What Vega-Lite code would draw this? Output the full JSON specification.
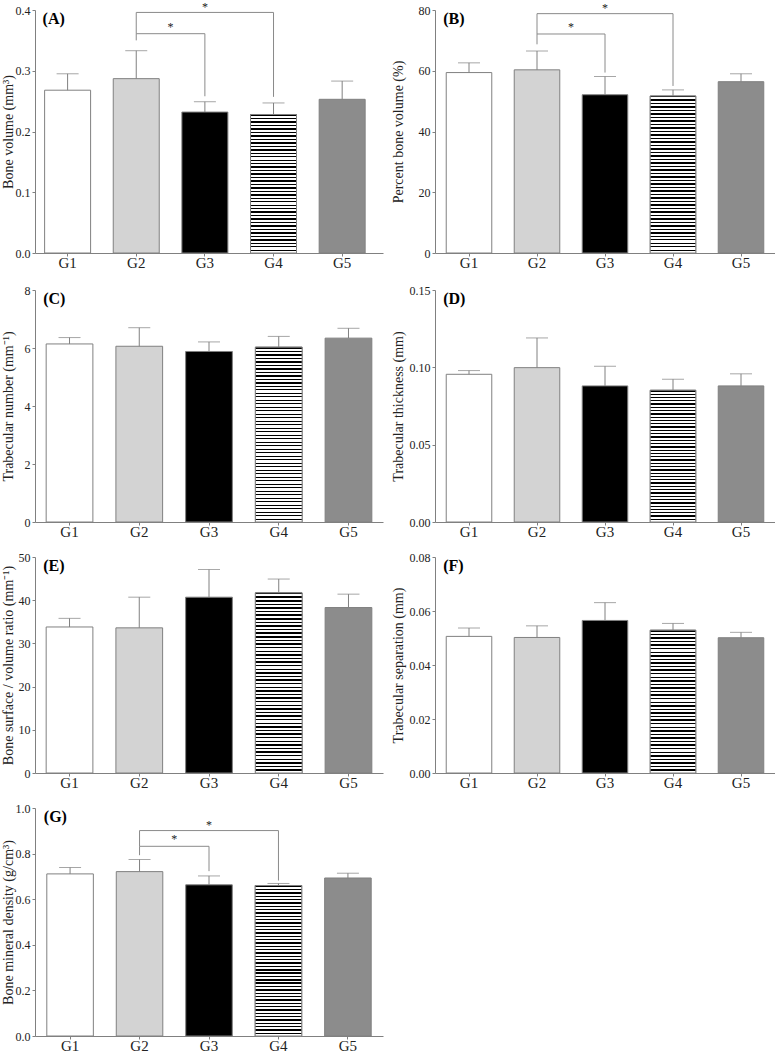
{
"$schema": "https://vega.github.io/schema/vega-lite/v6.json",
"background": "white",
"padding": {"left": 0, "top": 0, "right": 0, "bottom": 0},
"params": [
{"name": "stripes40", "value": {"gradient": "linear", "x1": 0, "y1": 0, "x2": 0, "y2": 1, "stops": [{"offset":0,"color":"#000"},{"offset":0.01,"color":"#000"},{"offset":0.01,"color":"#fff"},{"offset":0.025,"color":"#fff"},
{"offset":0.025,"color":"#000"},{"offset":0.035,"color":"#000"},{"offset":0.035,"color":"#fff"},{"offset":0.05,"color":"#fff"},
{"offset":0.05,"color":"#000"},{"offset":0.06,"color":"#000"},{"offset":0.06,"color":"#fff"},{"offset":0.075,"color":"#fff"},
{"offset":0.075,"color":"#000"},{"offset":0.085,"color":"#000"},{"offset":0.085,"color":"#fff"},{"offset":0.1,"color":"#fff"},
{"offset":0.1,"color":"#000"},{"offset":0.11,"color":"#000"},{"offset":0.11,"color":"#fff"},{"offset":0.125,"color":"#fff"},
{"offset":0.125,"color":"#000"},{"offset":0.135,"color":"#000"},{"offset":0.135,"color":"#fff"},{"offset":0.15,"color":"#fff"},
{"offset":0.15,"color":"#000"},{"offset":0.16,"color":"#000"},{"offset":0.16,"color":"#fff"},{"offset":0.175,"color":"#fff"},
{"offset":0.175,"color":"#000"},{"offset":0.185,"color":"#000"},{"offset":0.185,"color":"#fff"},{"offset":0.2,"color":"#fff"},
{"offset":0.2,"color":"#000"},{"offset":0.21,"color":"#000"},{"offset":0.21,"color":"#fff"},{"offset":0.225,"color":"#fff"},
{"offset":0.225,"color":"#000"},{"offset":0.235,"color":"#000"},{"offset":0.235,"color":"#fff"},{"offset":0.25,"color":"#fff"},
{"offset":0.25,"color":"#000"},{"offset":0.26,"color":"#000"},{"offset":0.26,"color":"#fff"},{"offset":0.275,"color":"#fff"},
{"offset":0.275,"color":"#000"},{"offset":0.285,"color":"#000"},{"offset":0.285,"color":"#fff"},{"offset":0.3,"color":"#fff"},
{"offset":0.3,"color":"#000"},{"offset":0.31,"color":"#000"},{"offset":0.31,"color":"#fff"},{"offset":0.325,"color":"#fff"},
{"offset":0.325,"color":"#000"},{"offset":0.335,"color":"#000"},{"offset":0.335,"color":"#fff"},{"offset":0.35,"color":"#fff"},
{"offset":0.35,"color":"#000"},{"offset":0.36,"color":"#000"},{"offset":0.36,"color":"#fff"},{"offset":0.375,"color":"#fff"},
{"offset":0.375,"color":"#000"},{"offset":0.385,"color":"#000"},{"offset":0.385,"color":"#fff"},{"offset":0.4,"color":"#fff"},
{"offset":0.4,"color":"#000"},{"offset":0.41,"color":"#000"},{"offset":0.41,"color":"#fff"},{"offset":0.425,"color":"#fff"},
{"offset":0.425,"color":"#000"},{"offset":0.435,"color":"#000"},{"offset":0.435,"color":"#fff"},{"offset":0.45,"color":"#fff"},
{"offset":0.45,"color":"#000"},{"offset":0.46,"color":"#000"},{"offset":0.46,"color":"#fff"},{"offset":0.475,"color":"#fff"},
{"offset":0.475,"color":"#000"},{"offset":0.485,"color":"#000"},{"offset":0.485,"color":"#fff"},{"offset":0.5,"color":"#fff"},
{"offset":0.5,"color":"#000"},{"offset":0.51,"color":"#000"},{"offset":0.51,"color":"#fff"},{"offset":0.525,"color":"#fff"},
{"offset":0.525,"color":"#000"},{"offset":0.535,"color":"#000"},{"offset":0.535,"color":"#fff"},{"offset":0.55,"color":"#fff"},
{"offset":0.55,"color":"#000"},{"offset":0.56,"color":"#000"},{"offset":0.56,"color":"#fff"},{"offset":0.575,"color":"#fff"},
{"offset":0.575,"color":"#000"},{"offset":0.585,"color":"#000"},{"offset":0.585,"color":"#fff"},{"offset":0.6,"color":"#fff"},
{"offset":0.6,"color":"#000"},{"offset":0.61,"color":"#000"},{"offset":0.61,"color":"#fff"},{"offset":0.625,"color":"#fff"},
{"offset":0.625,"color":"#000"},{"offset":0.635,"color":"#000"},{"offset":0.635,"color":"#fff"},{"offset":0.65,"color":"#fff"},
{"offset":0.65,"color":"#000"},{"offset":0.66,"color":"#000"},{"offset":0.66,"color":"#fff"},{"offset":0.675,"color":"#fff"},
{"offset":0.675,"color":"#000"},{"offset":0.685,"color":"#000"},{"offset":0.685,"color":"#fff"},{"offset":0.7,"color":"#fff"},
{"offset":0.7,"color":"#000"},{"offset":0.71,"color":"#000"},{"offset":0.71,"color":"#fff"},{"offset":0.725,"color":"#fff"},
{"offset":0.725,"color":"#000"},{"offset":0.735,"color":"#000"},{"offset":0.735,"color":"#fff"},{"offset":0.75,"color":"#fff"},
{"offset":0.75,"color":"#000"},{"offset":0.76,"color":"#000"},{"offset":0.76,"color":"#fff"},{"offset":0.775,"color":"#fff"},
{"offset":0.775,"color":"#000"},{"offset":0.785,"color":"#000"},{"offset":0.785,"color":"#fff"},{"offset":0.8,"color":"#fff"},
{"offset":0.8,"color":"#000"},{"offset":0.81,"color":"#000"},{"offset":0.81,"color":"#fff"},{"offset":0.825,"color":"#fff"},
{"offset":0.825,"color":"#000"},{"offset":0.835,"color":"#000"},{"offset":0.835,"color":"#fff"},{"offset":0.85,"color":"#fff"},
{"offset":0.85,"color":"#000"},{"offset":0.86,"color":"#000"},{"offset":0.86,"color":"#fff"},{"offset":0.875,"color":"#fff"},
{"offset":0.875,"color":"#000"},{"offset":0.885,"color":"#000"},{"offset":0.885,"color":"#fff"},{"offset":0.9,"color":"#fff"},
{"offset":0.9,"color":"#000"},{"offset":0.91,"color":"#000"},{"offset":0.91,"color":"#fff"},{"offset":0.925,"color":"#fff"},
{"offset":0.925,"color":"#000"},{"offset":0.935,"color":"#000"},{"offset":0.935,"color":"#fff"},{"offset":0.95,"color":"#fff"},
{"offset":0.95,"color":"#000"},{"offset":0.96,"color":"#000"},{"offset":0.96,"color":"#fff"},{"offset":0.975,"color":"#fff"},
{"offset":0.975,"color":"#000"},{"offset":0.985,"color":"#000"},{"offset":0.985,"color":"#fff"},{"offset":1,"color":"#fff"}]}},
{"name": "stripes45", "value": {"gradient": "linear", "x1": 0, "y1": 0, "x2": 0, "y2": 1, "stops": [{"offset":0,"color":"#000"},{"offset":0.0093,"color":"#000"},{"offset":0.0093,"color":"#fff"},{"offset":0.0222,"color":"#fff"},
{"offset":0.0222,"color":"#000"},{"offset":0.0315,"color":"#000"},{"offset":0.0315,"color":"#fff"},{"offset":0.0444,"color":"#fff"},
{"offset":0.0444,"color":"#000"},{"offset":0.0537,"color":"#000"},{"offset":0.0537,"color":"#fff"},{"offset":0.0667,"color":"#fff"},
{"offset":0.0667,"color":"#000"},{"offset":0.076,"color":"#000"},{"offset":0.076,"color":"#fff"},{"offset":0.0889,"color":"#fff"},
{"offset":0.0889,"color":"#000"},{"offset":0.0982,"color":"#000"},{"offset":0.0982,"color":"#fff"},{"offset":0.1111,"color":"#fff"},
{"offset":0.1111,"color":"#000"},{"offset":0.1204,"color":"#000"},{"offset":0.1204,"color":"#fff"},{"offset":0.1333,"color":"#fff"},
{"offset":0.1333,"color":"#000"},{"offset":0.1426,"color":"#000"},{"offset":0.1426,"color":"#fff"},{"offset":0.1556,"color":"#fff"},
{"offset":0.1556,"color":"#000"},{"offset":0.1649,"color":"#000"},{"offset":0.1649,"color":"#fff"},{"offset":0.1778,"color":"#fff"},
{"offset":0.1778,"color":"#000"},{"offset":0.1871,"color":"#000"},{"offset":0.1871,"color":"#fff"},{"offset":0.2,"color":"#fff"},
{"offset":0.2,"color":"#000"},{"offset":0.2093,"color":"#000"},{"offset":0.2093,"color":"#fff"},{"offset":0.2222,"color":"#fff"},
{"offset":0.2222,"color":"#000"},{"offset":0.2315,"color":"#000"},{"offset":0.2315,"color":"#fff"},{"offset":0.2444,"color":"#fff"},
{"offset":0.2444,"color":"#000"},{"offset":0.2537,"color":"#000"},{"offset":0.2537,"color":"#fff"},{"offset":0.2667,"color":"#fff"},
{"offset":0.2667,"color":"#000"},{"offset":0.276,"color":"#000"},{"offset":0.276,"color":"#fff"},{"offset":0.2889,"color":"#fff"},
{"offset":0.2889,"color":"#000"},{"offset":0.2982,"color":"#000"},{"offset":0.2982,"color":"#fff"},{"offset":0.3111,"color":"#fff"},
{"offset":0.3111,"color":"#000"},{"offset":0.3204,"color":"#000"},{"offset":0.3204,"color":"#fff"},{"offset":0.3333,"color":"#fff"},
{"offset":0.3333,"color":"#000"},{"offset":0.3426,"color":"#000"},{"offset":0.3426,"color":"#fff"},{"offset":0.3556,"color":"#fff"},
{"offset":0.3556,"color":"#000"},{"offset":0.3649,"color":"#000"},{"offset":0.3649,"color":"#fff"},{"offset":0.3778,"color":"#fff"},
{"offset":0.3778,"color":"#000"},{"offset":0.3871,"color":"#000"},{"offset":0.3871,"color":"#fff"},{"offset":0.4,"color":"#fff"},
{"offset":0.4,"color":"#000"},{"offset":0.4093,"color":"#000"},{"offset":0.4093,"color":"#fff"},{"offset":0.4222,"color":"#fff"},
{"offset":0.4222,"color":"#000"},{"offset":0.4315,"color":"#000"},{"offset":0.4315,"color":"#fff"},{"offset":0.4444,"color":"#fff"},
{"offset":0.4444,"color":"#000"},{"offset":0.4537,"color":"#000"},{"offset":0.4537,"color":"#fff"},{"offset":0.4667,"color":"#fff"},
{"offset":0.4667,"color":"#000"},{"offset":0.476,"color":"#000"},{"offset":0.476,"color":"#fff"},{"offset":0.4889,"color":"#fff"},
{"offset":0.4889,"color":"#000"},{"offset":0.4982,"color":"#000"},{"offset":0.4982,"color":"#fff"},{"offset":0.5111,"color":"#fff"},
{"offset":0.5111,"color":"#000"},{"offset":0.5204,"color":"#000"},{"offset":0.5204,"color":"#fff"},{"offset":0.5333,"color":"#fff"},
{"offset":0.5333,"color":"#000"},{"offset":0.5426,"color":"#000"},{"offset":0.5426,"color":"#fff"},{"offset":0.5556,"color":"#fff"},
{"offset":0.5556,"color":"#000"},{"offset":0.5649,"color":"#000"},{"offset":0.5649,"color":"#fff"},{"offset":0.5778,"color":"#fff"},
{"offset":0.5778,"color":"#000"},{"offset":0.5871,"color":"#000"},{"offset":0.5871,"color":"#fff"},{"offset":0.6,"color":"#fff"},
{"offset":0.6,"color":"#000"},{"offset":0.6093,"color":"#000"},{"offset":0.6093,"color":"#fff"},{"offset":0.6222,"color":"#fff"},
{"offset":0.6222,"color":"#000"},{"offset":0.6315,"color":"#000"},{"offset":0.6315,"color":"#fff"},{"offset":0.6444,"color":"#fff"},
{"offset":0.6444,"color":"#000"},{"offset":0.6537,"color":"#000"},{"offset":0.6537,"color":"#fff"},{"offset":0.6667,"color":"#fff"},
{"offset":0.6667,"color":"#000"},{"offset":0.676,"color":"#000"},{"offset":0.676,"color":"#fff"},{"offset":0.6889,"color":"#fff"},
{"offset":0.6889,"color":"#000"},{"offset":0.6982,"color":"#000"},{"offset":0.6982,"color":"#fff"},{"offset":0.7111,"color":"#fff"},
{"offset":0.7111,"color":"#000"},{"offset":0.7204,"color":"#000"},{"offset":0.7204,"color":"#fff"},{"offset":0.7333,"color":"#fff"},
{"offset":0.7333,"color":"#000"},{"offset":0.7426,"color":"#000"},{"offset":0.7426,"color":"#fff"},{"offset":0.7556,"color":"#fff"},
{"offset":0.7556,"color":"#000"},{"offset":0.7649,"color":"#000"},{"offset":0.7649,"color":"#fff"},{"offset":0.7778,"color":"#fff"},
{"offset":0.7778,"color":"#000"},{"offset":0.7871,"color":"#000"},{"offset":0.7871,"color":"#fff"},{"offset":0.8,"color":"#fff"},
{"offset":0.8,"color":"#000"},{"offset":0.8093,"color":"#000"},{"offset":0.8093,"color":"#fff"},{"offset":0.8222,"color":"#fff"},
{"offset":0.8222,"color":"#000"},{"offset":0.8315,"color":"#000"},{"offset":0.8315,"color":"#fff"},{"offset":0.8444,"color":"#fff"},
{"offset":0.8444,"color":"#000"},{"offset":0.8537,"color":"#000"},{"offset":0.8537,"color":"#fff"},{"offset":0.8667,"color":"#fff"},
{"offset":0.8667,"color":"#000"},{"offset":0.876,"color":"#000"},{"offset":0.876,"color":"#fff"},{"offset":0.8889,"color":"#fff"},
{"offset":0.8889,"color":"#000"},{"offset":0.8982,"color":"#000"},{"offset":0.8982,"color":"#fff"},{"offset":0.9111,"color":"#fff"},
{"offset":0.9111,"color":"#000"},{"offset":0.9204,"color":"#000"},{"offset":0.9204,"color":"#fff"},{"offset":0.9333,"color":"#fff"},
{"offset":0.9333,"color":"#000"},{"offset":0.9426,"color":"#000"},{"offset":0.9426,"color":"#fff"},{"offset":0.9556,"color":"#fff"},
{"offset":0.9556,"color":"#000"},{"offset":0.9649,"color":"#000"},{"offset":0.9649,"color":"#fff"},{"offset":0.9778,"color":"#fff"},
{"offset":0.9778,"color":"#000"},{"offset":0.9871,"color":"#000"},{"offset":0.9871,"color":"#fff"},{"offset":1,"color":"#fff"}]}},
{"name": "stripes50", "value": {"gradient": "linear", "x1": 0, "y1": 0, "x2": 0, "y2": 1, "stops": [{"offset":0,"color":"#000"},{"offset":0.008,"color":"#000"},{"offset":0.008,"color":"#fff"},{"offset":0.02,"color":"#fff"},
{"offset":0.02,"color":"#000"},{"offset":0.028,"color":"#000"},{"offset":0.028,"color":"#fff"},{"offset":0.04,"color":"#fff"},
{"offset":0.04,"color":"#000"},{"offset":0.048,"color":"#000"},{"offset":0.048,"color":"#fff"},{"offset":0.06,"color":"#fff"},
{"offset":0.06,"color":"#000"},{"offset":0.068,"color":"#000"},{"offset":0.068,"color":"#fff"},{"offset":0.08,"color":"#fff"},
{"offset":0.08,"color":"#000"},{"offset":0.088,"color":"#000"},{"offset":0.088,"color":"#fff"},{"offset":0.1,"color":"#fff"},
{"offset":0.1,"color":"#000"},{"offset":0.108,"color":"#000"},{"offset":0.108,"color":"#fff"},{"offset":0.12,"color":"#fff"},
{"offset":0.12,"color":"#000"},{"offset":0.128,"color":"#000"},{"offset":0.128,"color":"#fff"},{"offset":0.14,"color":"#fff"},
{"offset":0.14,"color":"#000"},{"offset":0.148,"color":"#000"},{"offset":0.148,"color":"#fff"},{"offset":0.16,"color":"#fff"},
{"offset":0.16,"color":"#000"},{"offset":0.168,"color":"#000"},{"offset":0.168,"color":"#fff"},{"offset":0.18,"color":"#fff"},
{"offset":0.18,"color":"#000"},{"offset":0.188,"color":"#000"},{"offset":0.188,"color":"#fff"},{"offset":0.2,"color":"#fff"},
{"offset":0.2,"color":"#000"},{"offset":0.208,"color":"#000"},{"offset":0.208,"color":"#fff"},{"offset":0.22,"color":"#fff"},
{"offset":0.22,"color":"#000"},{"offset":0.228,"color":"#000"},{"offset":0.228,"color":"#fff"},{"offset":0.24,"color":"#fff"},
{"offset":0.24,"color":"#000"},{"offset":0.248,"color":"#000"},{"offset":0.248,"color":"#fff"},{"offset":0.26,"color":"#fff"},
{"offset":0.26,"color":"#000"},{"offset":0.268,"color":"#000"},{"offset":0.268,"color":"#fff"},{"offset":0.28,"color":"#fff"},
{"offset":0.28,"color":"#000"},{"offset":0.288,"color":"#000"},{"offset":0.288,"color":"#fff"},{"offset":0.3,"color":"#fff"},
{"offset":0.3,"color":"#000"},{"offset":0.308,"color":"#000"},{"offset":0.308,"color":"#fff"},{"offset":0.32,"color":"#fff"},
{"offset":0.32,"color":"#000"},{"offset":0.328,"color":"#000"},{"offset":0.328,"color":"#fff"},{"offset":0.34,"color":"#fff"},
{"offset":0.34,"color":"#000"},{"offset":0.348,"color":"#000"},{"offset":0.348,"color":"#fff"},{"offset":0.36,"color":"#fff"},
{"offset":0.36,"color":"#000"},{"offset":0.368,"color":"#000"},{"offset":0.368,"color":"#fff"},{"offset":0.38,"color":"#fff"},
{"offset":0.38,"color":"#000"},{"offset":0.388,"color":"#000"},{"offset":0.388,"color":"#fff"},{"offset":0.4,"color":"#fff"},
{"offset":0.4,"color":"#000"},{"offset":0.408,"color":"#000"},{"offset":0.408,"color":"#fff"},{"offset":0.42,"color":"#fff"},
{"offset":0.42,"color":"#000"},{"offset":0.428,"color":"#000"},{"offset":0.428,"color":"#fff"},{"offset":0.44,"color":"#fff"},
{"offset":0.44,"color":"#000"},{"offset":0.448,"color":"#000"},{"offset":0.448,"color":"#fff"},{"offset":0.46,"color":"#fff"},
{"offset":0.46,"color":"#000"},{"offset":0.468,"color":"#000"},{"offset":0.468,"color":"#fff"},{"offset":0.48,"color":"#fff"},
{"offset":0.48,"color":"#000"},{"offset":0.488,"color":"#000"},{"offset":0.488,"color":"#fff"},{"offset":0.5,"color":"#fff"},
{"offset":0.5,"color":"#000"},{"offset":0.508,"color":"#000"},{"offset":0.508,"color":"#fff"},{"offset":0.52,"color":"#fff"},
{"offset":0.52,"color":"#000"},{"offset":0.528,"color":"#000"},{"offset":0.528,"color":"#fff"},{"offset":0.54,"color":"#fff"},
{"offset":0.54,"color":"#000"},{"offset":0.548,"color":"#000"},{"offset":0.548,"color":"#fff"},{"offset":0.56,"color":"#fff"},
{"offset":0.56,"color":"#000"},{"offset":0.568,"color":"#000"},{"offset":0.568,"color":"#fff"},{"offset":0.58,"color":"#fff"},
{"offset":0.58,"color":"#000"},{"offset":0.588,"color":"#000"},{"offset":0.588,"color":"#fff"},{"offset":0.6,"color":"#fff"},
{"offset":0.6,"color":"#000"},{"offset":0.608,"color":"#000"},{"offset":0.608,"color":"#fff"},{"offset":0.62,"color":"#fff"},
{"offset":0.62,"color":"#000"},{"offset":0.628,"color":"#000"},{"offset":0.628,"color":"#fff"},{"offset":0.64,"color":"#fff"},
{"offset":0.64,"color":"#000"},{"offset":0.648,"color":"#000"},{"offset":0.648,"color":"#fff"},{"offset":0.66,"color":"#fff"},
{"offset":0.66,"color":"#000"},{"offset":0.668,"color":"#000"},{"offset":0.668,"color":"#fff"},{"offset":0.68,"color":"#fff"},
{"offset":0.68,"color":"#000"},{"offset":0.688,"color":"#000"},{"offset":0.688,"color":"#fff"},{"offset":0.7,"color":"#fff"},
{"offset":0.7,"color":"#000"},{"offset":0.708,"color":"#000"},{"offset":0.708,"color":"#fff"},{"offset":0.72,"color":"#fff"},
{"offset":0.72,"color":"#000"},{"offset":0.728,"color":"#000"},{"offset":0.728,"color":"#fff"},{"offset":0.74,"color":"#fff"},
{"offset":0.74,"color":"#000"},{"offset":0.748,"color":"#000"},{"offset":0.748,"color":"#fff"},{"offset":0.76,"color":"#fff"},
{"offset":0.76,"color":"#000"},{"offset":0.768,"color":"#000"},{"offset":0.768,"color":"#fff"},{"offset":0.78,"color":"#fff"},
{"offset":0.78,"color":"#000"},{"offset":0.788,"color":"#000"},{"offset":0.788,"color":"#fff"},{"offset":0.8,"color":"#fff"},
{"offset":0.8,"color":"#000"},{"offset":0.808,"color":"#000"},{"offset":0.808,"color":"#fff"},{"offset":0.82,"color":"#fff"},
{"offset":0.82,"color":"#000"},{"offset":0.828,"color":"#000"},{"offset":0.828,"color":"#fff"},{"offset":0.84,"color":"#fff"},
{"offset":0.84,"color":"#000"},{"offset":0.848,"color":"#000"},{"offset":0.848,"color":"#fff"},{"offset":0.86,"color":"#fff"},
{"offset":0.86,"color":"#000"},{"offset":0.868,"color":"#000"},{"offset":0.868,"color":"#fff"},{"offset":0.88,"color":"#fff"},
{"offset":0.88,"color":"#000"},{"offset":0.888,"color":"#000"},{"offset":0.888,"color":"#fff"},{"offset":0.9,"color":"#fff"},
{"offset":0.9,"color":"#000"},{"offset":0.908,"color":"#000"},{"offset":0.908,"color":"#fff"},{"offset":0.92,"color":"#fff"},
{"offset":0.92,"color":"#000"},{"offset":0.928,"color":"#000"},{"offset":0.928,"color":"#fff"},{"offset":0.94,"color":"#fff"},
{"offset":0.94,"color":"#000"},{"offset":0.948,"color":"#000"},{"offset":0.948,"color":"#fff"},{"offset":0.96,"color":"#fff"},
{"offset":0.96,"color":"#000"},{"offset":0.968,"color":"#000"},{"offset":0.968,"color":"#fff"},{"offset":0.98,"color":"#fff"},
{"offset":0.98,"color":"#000"},{"offset":0.988,"color":"#000"},{"offset":0.988,"color":"#fff"},{"offset":1,"color":"#fff"}]}}
],
"config": {
  "view": {"stroke": null},
  "font": "Liberation Serif",
  "axis": {"domainColor": "#808080", "tickColor": "#808080", "labelColor": "#222", "titleColor": "#222", "labelFont": "Liberation Serif", "titleFont": "Liberation Serif", "titleFontWeight": "normal", "grid": false, "tickSize": 3},
  "axisX": {"labelFontSize": 15, "labelAngle": 0, "labelPadding": -1},
  "axisY": {"labelFontSize": 12, "titleFontSize": 14, "labelPadding": 2}
},
"resolve": {"scale": {"x": "independent", "y": "independent"}},
"spacing": 14,
"vconcat": [
{"spacing": 8, "resolve": {"scale": {"x": "independent", "y": "independent"}}, "hconcat": [
{"width": 348, "height": 243,
 "data": {"values": [{"g":"G1","mean":0.268,"hi":0.295},{"g":"G2","mean":0.287,"hi":0.333},{"g":"G3","mean":0.232,"hi":0.249},{"g":"G4","mean":0.228,"hi":0.247},{"g":"G5","mean":0.253,"hi":0.283}]},
 "layer": [
  {"mark": {"type": "bar", "stroke": "#808080", "strokeWidth": 1},
   "encoding": {"x": {"field":"g","type":"nominal","scale":{"domain":["G1","G2","G3","G4","G5"],"paddingInner":0.33,"paddingOuter":0.2,"align":0.35},"title":null},
     "y": {"field":"mean","type":"quantitative","scale":{"domain":[0,0.4],"nice":false},"title":"Bone volume (mm³)","axis":{"values":[0,0.1,0.2,0.3,0.4],"format":".1f","titleX":-20}},
     "fill": {"field":"g","type":"nominal","scale":{"domain":["G1","G2","G3","G4","G5"],"range":["#ffffff","#d3d3d3","#000000","#ffffff","#8c8c8c"]},"legend":null}}},
  {"transform": [{"filter": "datum.g === 'G4'"}], "mark": {"type": "bar", "stroke": "#808080", "strokeWidth": 1, "fill": {"expr": "stripes40"}},
   "encoding": {"x": {"field":"g","type":"nominal"}, "y": {"field":"mean","type":"quantitative"}}},
  {"mark": {"type": "rule", "color": "#808080"}, "encoding": {"x": {"field":"g","type":"nominal"}, "y": {"field":"mean","type":"quantitative"}, "y2": {"field":"hi"}}},
  {"mark": {"type": "tick", "color": "#808080", "size": 22, "thickness": 1}, "encoding": {"x": {"field":"g","type":"nominal"}, "y": {"field":"hi","type":"quantitative"}}},
  {"data": {"values": [{"a":"G2","b":"G3","lv":0.361},{"a":"G2","b":"G4","lv":0.396}]}, "mark": {"type": "rule", "color": "#8a8a8a"},
   "encoding": {"x": {"field":"a","type":"nominal"}, "x2": {"field":"b"}, "y": {"field":"lv","type":"quantitative"}}},
  {"data": {"values": [{"g":"G2","y1":0.361,"y2":0.350},{"g":"G3","y1":0.361,"y2":0.258},{"g":"G2","y1":0.396,"y2":0.361},{"g":"G4","y1":0.396,"y2":0.257}]}, "mark": {"type": "rule", "color": "#8a8a8a"},
   "encoding": {"x": {"field":"g","type":"nominal"}, "y": {"field":"y1","type":"quantitative"}, "y2": {"field":"y2"}}},
  {"data": {"values": [{"g":"G2","lv":0.361}]}, "mark": {"type": "text", "text": "*", "fontSize": 12, "baseline": "alphabetic", "dy": -3, "fill": "#222"},
   "encoding": {"x": {"field":"g","type":"nominal","bandPosition":1.246}, "y": {"field":"lv","type":"quantitative"}}},
  {"data": {"values": [{"g":"G3","lv":0.396}]}, "mark": {"type": "text", "text": "*", "fontSize": 12, "baseline": "alphabetic", "dy": -1.5, "fill": "#222"},
   "encoding": {"x": {"field":"g","type":"nominal"}, "y": {"field":"lv","type":"quantitative"}}},
  {"data": {"values": [{"g":"G1","y":0.4,"t":"(A)"}]}, "mark": {"type": "text", "align": "left", "baseline": "top", "dx": -2, "dy": 1, "fontWeight": "bold", "fontSize": 16, "fill": "#000"},
   "encoding": {"x": {"field":"g","type":"nominal","bandPosition":0}, "y": {"field":"y","type":"quantitative"}, "text": {"field":"t"}}}
 ]},
{"width": 340, "height": 243,
 "data": {"values": [{"g":"G1","mean":59.4,"hi":62.6},{"g":"G2","mean":60.3,"hi":66.5},{"g":"G3","mean":52.1,"hi":58.1},{"g":"G4","mean":51.7,"hi":53.7},{"g":"G5","mean":56.4,"hi":59.0}]},
 "layer": [
  {"mark": {"type": "bar", "stroke": "#808080", "strokeWidth": 1},
   "encoding": {"x": {"field":"g","type":"nominal","scale":{"domain":["G1","G2","G3","G4","G5"],"paddingInner":0.33,"paddingOuter":0.165},"title":null},
     "y": {"field":"mean","type":"quantitative","scale":{"domain":[0,80],"nice":false},"title":"Percent bone volume (%)","axis":{"values":[0,20,40,60,80],"titleX":-30}},
     "fill": {"field":"g","type":"nominal","scale":{"domain":["G1","G2","G3","G4","G5"],"range":["#ffffff","#d3d3d3","#000000","#ffffff","#8c8c8c"]},"legend":null}}},
  {"transform": [{"filter": "datum.g === 'G4'"}], "mark": {"type": "bar", "stroke": "#808080", "strokeWidth": 1, "fill": {"expr": "stripes45"}},
   "encoding": {"x": {"field":"g","type":"nominal"}, "y": {"field":"mean","type":"quantitative"}}},
  {"mark": {"type": "rule", "color": "#808080"}, "encoding": {"x": {"field":"g","type":"nominal"}, "y": {"field":"mean","type":"quantitative"}, "y2": {"field":"hi"}}},
  {"mark": {"type": "tick", "color": "#808080", "size": 22, "thickness": 1}, "encoding": {"x": {"field":"g","type":"nominal"}, "y": {"field":"hi","type":"quantitative"}}},
  {"data": {"values": [{"a":"G2","b":"G3","lv":72.1},{"a":"G2","b":"G4","lv":78.8}]}, "mark": {"type": "rule", "color": "#8a8a8a"},
   "encoding": {"x": {"field":"a","type":"nominal"}, "x2": {"field":"b"}, "y": {"field":"lv","type":"quantitative"}}},
  {"data": {"values": [{"g":"G2","y1":72.1,"y2":68.7},{"g":"G3","y1":72.1,"y2":59.4},{"g":"G2","y1":78.8,"y2":72.1},{"g":"G4","y1":78.8,"y2":55.0}]}, "mark": {"type": "rule", "color": "#8a8a8a"},
   "encoding": {"x": {"field":"g","type":"nominal"}, "y": {"field":"y1","type":"quantitative"}, "y2": {"field":"y2"}}},
  {"data": {"values": [{"g":"G2","lv":72.1}]}, "mark": {"type": "text", "text": "*", "fontSize": 12, "baseline": "alphabetic", "dy": -3, "fill": "#222"},
   "encoding": {"x": {"field":"g","type":"nominal","bandPosition":1.246}, "y": {"field":"lv","type":"quantitative"}}},
  {"data": {"values": [{"g":"G3","lv":78.8}]}, "mark": {"type": "text", "text": "*", "fontSize": 12, "baseline": "alphabetic", "dy": -1.5, "fill": "#222"},
   "encoding": {"x": {"field":"g","type":"nominal"}, "y": {"field":"lv","type":"quantitative"}}},
  {"data": {"values": [{"g":"G1","y":80,"t":"(B)"}]}, "mark": {"type": "text", "align": "left", "baseline": "top", "dx": -3, "dy": 1, "fontWeight": "bold", "fontSize": 16, "fill": "#000"},
   "encoding": {"x": {"field":"g","type":"nominal","bandPosition":0}, "y": {"field":"y","type":"quantitative"}, "text": {"field":"t"}}}
 ]}
]},
{"spacing": 12, "resolve": {"scale": {"x": "independent", "y": "independent"}}, "vconcat": [
{"spacing": 8, "resolve": {"scale": {"x": "independent", "y": "independent"}}, "hconcat": [
{"width": 348, "height": 232,
 "data": {"values": [{"g":"G1","mean":6.14,"hi":6.36},{"g":"G2","mean":6.06,"hi":6.70},{"g":"G3","mean":5.88,"hi":6.21},{"g":"G4","mean":6.03,"hi":6.40},{"g":"G5","mean":6.34,"hi":6.68}]},
 "layer": [
  {"mark": {"type": "bar", "stroke": "#808080", "strokeWidth": 1},
   "encoding": {"x": {"field":"g","type":"nominal","scale":{"domain":["G1","G2","G3","G4","G5"],"paddingInner":0.33,"paddingOuter":0.16},"title":null},
     "y": {"field":"mean","type":"quantitative","scale":{"domain":[0,8],"nice":false},"title":"Trabecular number (mm⁻¹)","axis":{"values":[0,2,4,6,8],"titleX":-20}},
     "fill": {"field":"g","type":"nominal","scale":{"domain":["G1","G2","G3","G4","G5"],"range":["#ffffff","#d3d3d3","#000000","#ffffff","#8c8c8c"]},"legend":null}}},
  {"transform": [{"filter": "datum.g === 'G4'"}], "mark": {"type": "bar", "stroke": "#808080", "strokeWidth": 1, "fill": {"expr": "stripes50"}},
   "encoding": {"x": {"field":"g","type":"nominal"}, "y": {"field":"mean","type":"quantitative"}}},
  {"mark": {"type": "rule", "color": "#808080"}, "encoding": {"x": {"field":"g","type":"nominal"}, "y": {"field":"mean","type":"quantitative"}, "y2": {"field":"hi"}}},
  {"mark": {"type": "tick", "color": "#808080", "size": 22, "thickness": 1}, "encoding": {"x": {"field":"g","type":"nominal"}, "y": {"field":"hi","type":"quantitative"}}},
  {"data": {"values": [{"g":"G1","y":8,"t":"(C)"}]}, "mark": {"type": "text", "align": "left", "baseline": "top", "dx": -3, "dy": 1, "fontWeight": "bold", "fontSize": 16, "fill": "#000"},
   "encoding": {"x": {"field":"g","type":"nominal","bandPosition":0}, "y": {"field":"y","type":"quantitative"}, "text": {"field":"t"}}}
 ]},
{"width": 340, "height": 232,
 "data": {"values": [{"g":"G1","mean":0.0955,"hi":0.0979},{"g":"G2","mean":0.0998,"hi":0.119},{"g":"G3","mean":0.0880,"hi":0.1007},{"g":"G4","mean":0.0852,"hi":0.0923},{"g":"G5","mean":0.0880,"hi":0.0958}]},
 "layer": [
  {"mark": {"type": "bar", "stroke": "#808080", "strokeWidth": 1},
   "encoding": {"x": {"field":"g","type":"nominal","scale":{"domain":["G1","G2","G3","G4","G5"],"paddingInner":0.33,"paddingOuter":0.165},"title":null},
     "y": {"field":"mean","type":"quantitative","scale":{"domain":[0,0.15],"nice":false},"title":"Trabecular thickness (mm)","axis":{"values":[0,0.05,0.1,0.15],"format":".2f","titleX":-30}},
     "fill": {"field":"g","type":"nominal","scale":{"domain":["G1","G2","G3","G4","G5"],"range":["#ffffff","#d3d3d3","#000000","#ffffff","#8c8c8c"]},"legend":null}}},
  {"transform": [{"filter": "datum.g === 'G4'"}], "mark": {"type": "bar", "stroke": "#808080", "strokeWidth": 1, "fill": {"expr": "stripes40"}},
   "encoding": {"x": {"field":"g","type":"nominal"}, "y": {"field":"mean","type":"quantitative"}}},
  {"mark": {"type": "rule", "color": "#808080"}, "encoding": {"x": {"field":"g","type":"nominal"}, "y": {"field":"mean","type":"quantitative"}, "y2": {"field":"hi"}}},
  {"mark": {"type": "tick", "color": "#808080", "size": 22, "thickness": 1}, "encoding": {"x": {"field":"g","type":"nominal"}, "y": {"field":"hi","type":"quantitative"}}},
  {"data": {"values": [{"g":"G1","y":0.15,"t":"(D)"}]}, "mark": {"type": "text", "align": "left", "baseline": "top", "dx": -3, "dy": 1, "fontWeight": "bold", "fontSize": 16, "fill": "#000"},
   "encoding": {"x": {"field":"g","type":"nominal","bandPosition":0}, "y": {"field":"y","type":"quantitative"}, "text": {"field":"t"}}}
 ]}
]},
{"spacing": 8, "resolve": {"scale": {"x": "independent", "y": "independent"}}, "hconcat": [
{"width": 348, "height": 216,
 "data": {"values": [{"g":"G1","mean":33.8,"hi":35.8},{"g":"G2","mean":33.6,"hi":40.7},{"g":"G3","mean":40.7,"hi":47.1},{"g":"G4","mean":41.7,"hi":44.9},{"g":"G5","mean":38.3,"hi":41.4}]},
 "layer": [
  {"mark": {"type": "bar", "stroke": "#808080", "strokeWidth": 1},
   "encoding": {"x": {"field":"g","type":"nominal","scale":{"domain":["G1","G2","G3","G4","G5"],"paddingInner":0.33,"paddingOuter":0.16},"title":null},
     "y": {"field":"mean","type":"quantitative","scale":{"domain":[0,50],"nice":false},"title":"Bone surface / volume ratio (mm⁻¹)","axis":{"values":[0,10,20,30,40,50],"titleX":-20}},
     "fill": {"field":"g","type":"nominal","scale":{"domain":["G1","G2","G3","G4","G5"],"range":["#ffffff","#d3d3d3","#000000","#ffffff","#8c8c8c"]},"legend":null}}},
  {"transform": [{"filter": "datum.g === 'G4'"}], "mark": {"type": "bar", "stroke": "#808080", "strokeWidth": 1, "fill": {"expr": "stripes50"}},
   "encoding": {"x": {"field":"g","type":"nominal"}, "y": {"field":"mean","type":"quantitative"}}},
  {"mark": {"type": "rule", "color": "#808080"}, "encoding": {"x": {"field":"g","type":"nominal"}, "y": {"field":"mean","type":"quantitative"}, "y2": {"field":"hi"}}},
  {"mark": {"type": "tick", "color": "#808080", "size": 22, "thickness": 1}, "encoding": {"x": {"field":"g","type":"nominal"}, "y": {"field":"hi","type":"quantitative"}}},
  {"data": {"values": [{"g":"G1","y":50,"t":"(E)"}]}, "mark": {"type": "text", "align": "left", "baseline": "top", "dx": -3, "dy": 1, "fontWeight": "bold", "fontSize": 16, "fill": "#000"},
   "encoding": {"x": {"field":"g","type":"nominal","bandPosition":0}, "y": {"field":"y","type":"quantitative"}, "text": {"field":"t"}}}
 ]},
{"width": 340, "height": 216,
 "data": {"values": [{"g":"G1","mean":0.0506,"hi":0.0537},{"g":"G2","mean":0.0502,"hi":0.0545},{"g":"G3","mean":0.0565,"hi":0.0631},{"g":"G4","mean":0.0529,"hi":0.0554},{"g":"G5","mean":0.0501,"hi":0.0521}]},
 "layer": [
  {"mark": {"type": "bar", "stroke": "#808080", "strokeWidth": 1},
   "encoding": {"x": {"field":"g","type":"nominal","scale":{"domain":["G1","G2","G3","G4","G5"],"paddingInner":0.33,"paddingOuter":0.165},"title":null},
     "y": {"field":"mean","type":"quantitative","scale":{"domain":[0,0.08],"nice":false},"title":"Trabecular separation (mm)","axis":{"values":[0,0.02,0.04,0.06,0.08],"format":".2f","titleX":-30}},
     "fill": {"field":"g","type":"nominal","scale":{"domain":["G1","G2","G3","G4","G5"],"range":["#ffffff","#d3d3d3","#000000","#ffffff","#8c8c8c"]},"legend":null}}},
  {"transform": [{"filter": "datum.g === 'G4'"}], "mark": {"type": "bar", "stroke": "#808080", "strokeWidth": 1, "fill": {"expr": "stripes40"}},
   "encoding": {"x": {"field":"g","type":"nominal"}, "y": {"field":"mean","type":"quantitative"}}},
  {"mark": {"type": "rule", "color": "#808080"}, "encoding": {"x": {"field":"g","type":"nominal"}, "y": {"field":"mean","type":"quantitative"}, "y2": {"field":"hi"}}},
  {"mark": {"type": "tick", "color": "#808080", "size": 22, "thickness": 1}, "encoding": {"x": {"field":"g","type":"nominal"}, "y": {"field":"hi","type":"quantitative"}}},
  {"data": {"values": [{"g":"G1","y":0.08,"t":"(F)"}]}, "mark": {"type": "text", "align": "left", "baseline": "top", "dx": -3, "dy": 1, "fontWeight": "bold", "fontSize": 16, "fill": "#000"},
   "encoding": {"x": {"field":"g","type":"nominal","bandPosition":0}, "y": {"field":"y","type":"quantitative"}, "text": {"field":"t"}}}
 ]}
]},
{"spacing": 8, "resolve": {"scale": {"x": "independent", "y": "independent"}}, "hconcat": [
{"width": 348, "height": 228,
 "data": {"values": [{"g":"G1","mean":0.711,"hi":0.739},{"g":"G2","mean":0.721,"hi":0.774},{"g":"G3","mean":0.663,"hi":0.702},{"g":"G4","mean":0.660,"hi":0.669},{"g":"G5","mean":0.693,"hi":0.714}]},
 "layer": [
  {"mark": {"type": "bar", "stroke": "#808080", "strokeWidth": 1},
   "encoding": {"x": {"field":"g","type":"nominal","scale":{"domain":["G1","G2","G3","G4","G5"],"paddingInner":0.33,"paddingOuter":0.17},"title":null},
     "y": {"field":"mean","type":"quantitative","scale":{"domain":[0,1],"nice":false},"title":"Bone mineral density (g/cm³)","axis":{"values":[0,0.2,0.4,0.6,0.8,1],"format":".1f","titleX":-20}},
     "fill": {"field":"g","type":"nominal","scale":{"domain":["G1","G2","G3","G4","G5"],"range":["#ffffff","#d3d3d3","#000000","#ffffff","#8c8c8c"]},"legend":null}}},
  {"transform": [{"filter": "datum.g === 'G4'"}], "mark": {"type": "bar", "stroke": "#808080", "strokeWidth": 1, "fill": {"expr": "stripes45"}},
   "encoding": {"x": {"field":"g","type":"nominal"}, "y": {"field":"mean","type":"quantitative"}}},
  {"mark": {"type": "rule", "color": "#808080"}, "encoding": {"x": {"field":"g","type":"nominal"}, "y": {"field":"mean","type":"quantitative"}, "y2": {"field":"hi"}}},
  {"mark": {"type": "tick", "color": "#808080", "size": 22, "thickness": 1}, "encoding": {"x": {"field":"g","type":"nominal"}, "y": {"field":"hi","type":"quantitative"}}},
  {"data": {"values": [{"a":"G2","b":"G3","lv":0.832},{"a":"G2","b":"G4","lv":0.901}]}, "mark": {"type": "rule", "color": "#8a8a8a"},
   "encoding": {"x": {"field":"a","type":"nominal"}, "x2": {"field":"b"}, "y": {"field":"lv","type":"quantitative"}}},
  {"data": {"values": [{"g":"G2","y1":0.832,"y2":0.793},{"g":"G3","y1":0.832,"y2":0.723},{"g":"G2","y1":0.901,"y2":0.832},{"g":"G4","y1":0.901,"y2":0.682}]}, "mark": {"type": "rule", "color": "#8a8a8a"},
   "encoding": {"x": {"field":"g","type":"nominal"}, "y": {"field":"y1","type":"quantitative"}, "y2": {"field":"y2"}}},
  {"data": {"values": [{"g":"G2","lv":0.832}]}, "mark": {"type": "text", "text": "*", "fontSize": 12, "baseline": "alphabetic", "dy": -3, "fill": "#222"},
   "encoding": {"x": {"field":"g","type":"nominal","bandPosition":1.246}, "y": {"field":"lv","type":"quantitative"}}},
  {"data": {"values": [{"g":"G3","lv":0.901}]}, "mark": {"type": "text", "text": "*", "fontSize": 12, "baseline": "alphabetic", "dy": -1.5, "fill": "#222"},
   "encoding": {"x": {"field":"g","type":"nominal"}, "y": {"field":"lv","type":"quantitative"}}},
  {"data": {"values": [{"g":"G1","y":1,"t":"(G)"}]}, "mark": {"type": "text", "align": "left", "baseline": "top", "dx": -3, "dy": 1, "fontWeight": "bold", "fontSize": 16, "fill": "#000"},
   "encoding": {"x": {"field":"g","type":"nominal","bandPosition":0}, "y": {"field":"y","type":"quantitative"}, "text": {"field":"t"}}}
 ]}
]}
]}
]
}
